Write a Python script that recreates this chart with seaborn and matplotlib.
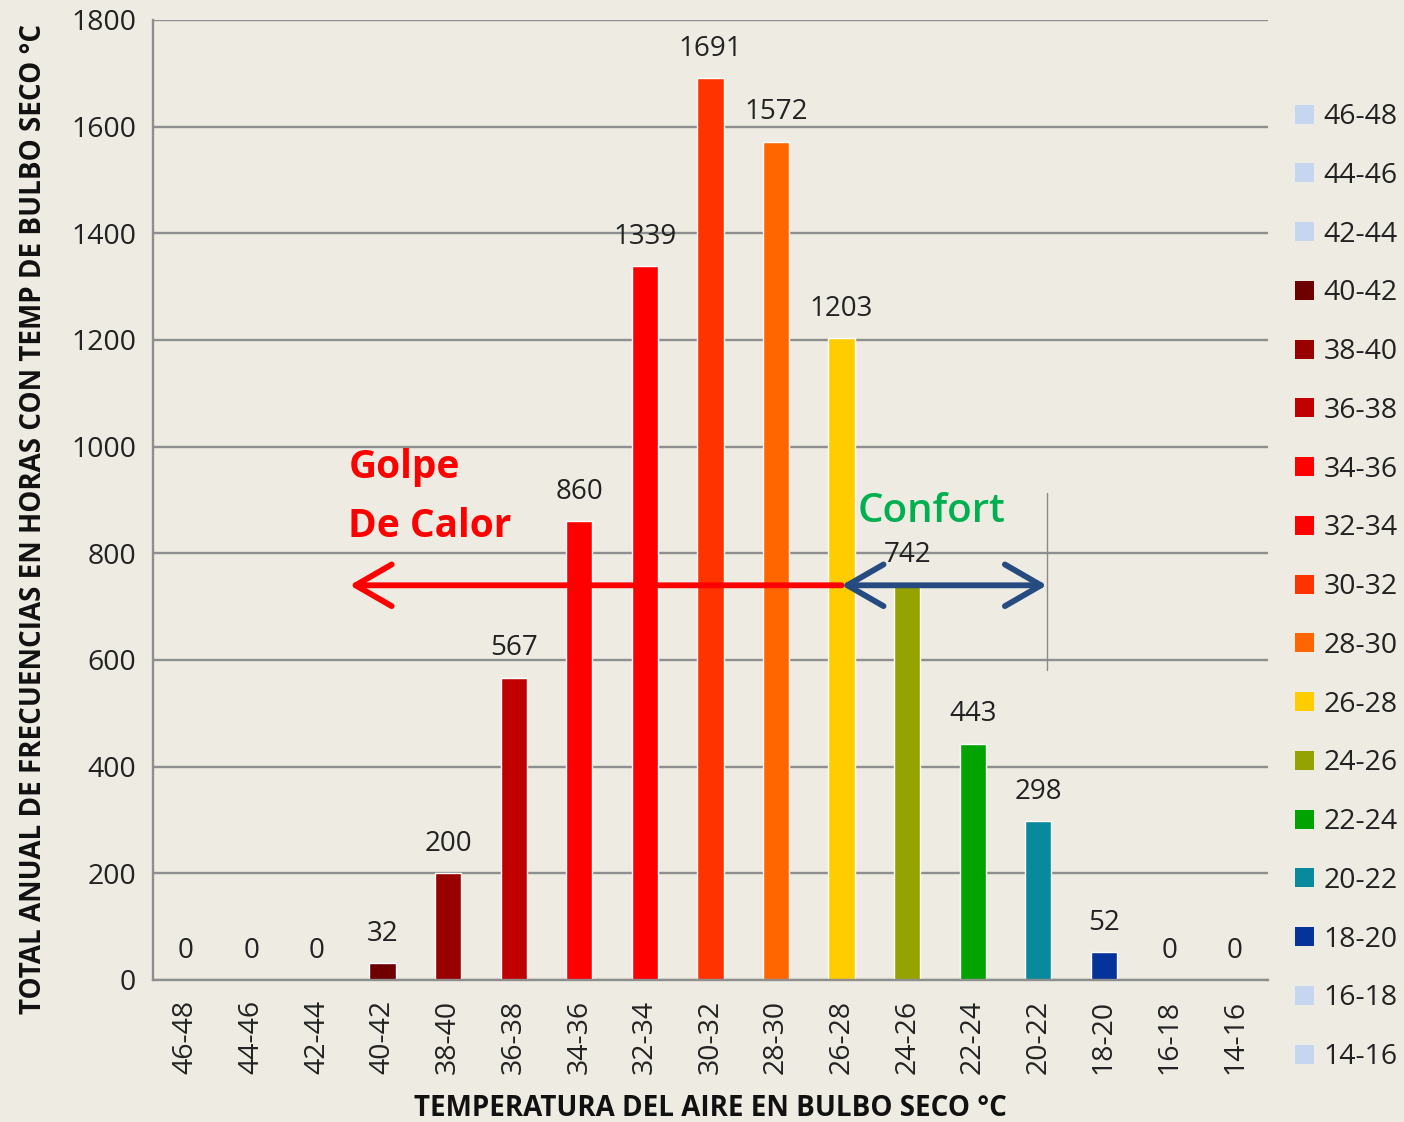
import matplotlib
matplotlib.use("Agg")
import matplotlib.pyplot as plt
import seaborn as sns
import pandas as pd
from matplotlib.patches import Patch, FancyArrowPatch

categories = ["46-48", "44-46", "42-44", "40-42", "38-40", "36-38", "34-36", "32-34",
              "30-32", "28-30", "26-28", "24-26", "22-24", "20-22", "18-20", "16-18", "14-16"]
values = [0, 0, 0, 32, 200, 567, 860, 1339, 1691, 1572, 1203, 742, 443, 298, 52, 0, 0]
colors = ["#c6d6f0", "#c6d6f0", "#c6d6f0", "#6e0000", "#990000", "#c00000", "#ff0000", "#ff0000",
          "#ff3300", "#ff6600", "#ffcc00", "#95a300", "#00a300", "#088a9c", "#063399", "#c6d6f0", "#c6d6f0"]

sns.set_theme(style="white")
plt.rcParams['font.family'] = ['Open Sans', 'DejaVu Sans']

bg = "#eeece2"
grid_c = "#8e8e8e"

df = pd.DataFrame({"cat": categories, "val": values})
pal = dict(zip(categories, colors))

fig = plt.figure(figsize=(14.04, 11.22), dpi=100, facecolor=bg)
ax = fig.add_axes([0.109, 0.1266, 0.794, 0.8556])
ax.set_facecolor(bg)

sns.barplot(data=df, x="cat", y="val", hue="cat", palette=pal, order=categories,
            hue_order=categories, width=0.4, legend=False, ax=ax, saturation=1)

for c in ax.containers:
    ax.bar_label(c, fmt="%.0f", padding=11, fontsize=20, color="#222222")

ax.set_ylim(0, 1800)
ax.set_xlim(-0.5, 16.5)
ax.set_yticks(range(0, 1801, 200))
ax.yaxis.grid(True, color=grid_c, linewidth=1.7)
ax.set_axisbelow(True)
for s in ["top", "right"]:
    ax.spines[s].set_visible(False)
for s in ["left", "bottom"]:
    ax.spines[s].set_color(grid_c)
    ax.spines[s].set_linewidth(1.7)
ax.tick_params(axis="y", length=7, width=1.7, color=grid_c, labelsize=20.5, pad=5, labelcolor="#222222")
ax.tick_params(axis="x", length=0, labelsize=20.5, pad=14, labelcolor="#222222", rotation=90)

ax.set_xlabel("TEMPERATURA DEL AIRE EN BULBO SECO °C", fontsize=20, fontweight="bold",
              color="#111111")
ax.set_ylabel("TOTAL ANUAL DE FRECUENCIAS EN HORAS CON TEMP DE BULBO SECO °C", fontsize=20,
              fontweight="bold", color="#111111")
ax.yaxis.set_label_coords(-0.094, 0.48)
ax.xaxis.set_label_coords(0.5, -0.119)

# arrows
y_arrow = 740
red = FancyArrowPatch((10.0, y_arrow), (2.5, y_arrow), arrowstyle="->,head_length=1.3,head_width=0.75",
                      color="#ff0000", linewidth=4.2, mutation_scale=20, shrinkA=0, shrinkB=0, zorder=5)
ax.add_patch(red)
blue = FancyArrowPatch((10.0, y_arrow), (13.13, y_arrow), arrowstyle="<->,head_length=1.3,head_width=0.75",
                       color="#254b80", linewidth=4.2, mutation_scale=20, shrinkA=0, shrinkB=0, zorder=6)
ax.add_patch(blue)
ax.plot([13.13, 13.13], [581, 913], color="#8a8a8a", linewidth=1, zorder=4)

ax.text(2.48, 960, "Golpe", color="#ff0000", fontsize=28, fontweight="bold", va="center", ha="left")
ax.text(2.48, 851, "De Calor", color="#ff0000", fontsize=28, fontweight="bold", va="center", ha="left")
ax.text(10.25, 877, "Confort", color="#00b050", fontsize=29, fontweight="semibold", va="center", ha="left")

handles = [Patch(facecolor=c, edgecolor="none") for c in colors]
leg = fig.legend(handles, categories, loc="upper left", bbox_to_anchor=(0.9225, 0.908),
                 frameon=False, fontsize=20.5, handlelength=0.65, handleheight=0.65,
                 labelspacing=1.08, handletextpad=0.35, labelcolor="#222222",
                 borderaxespad=0, borderpad=0)

fig.savefig("out.png", dpi=100, facecolor=bg)
